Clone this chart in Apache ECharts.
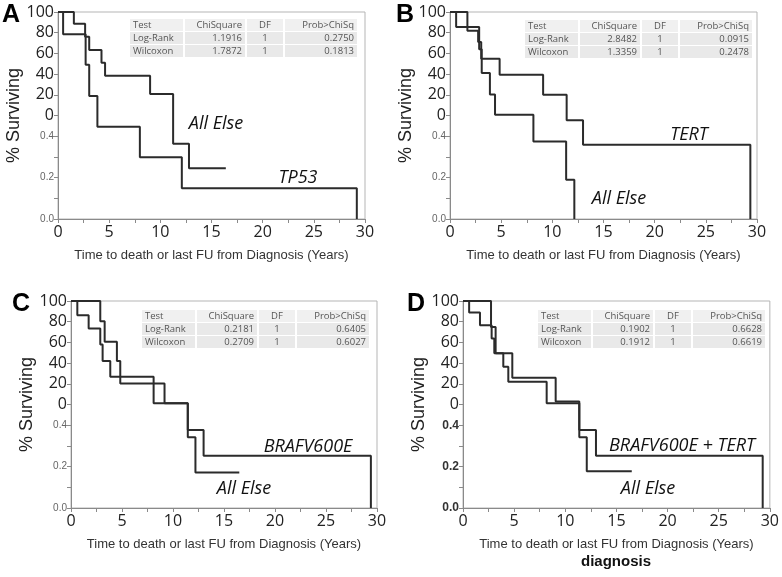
<!DOCTYPE html>
<html>
<head>
<meta charset="utf-8">
<script src="https://cdn.jsdelivr.net/npm/echarts@6/dist/echarts.min.js"></script>
<style>
html,body{margin:0;padding:0;background:#ffffff;}
#chart{width:782px;height:577px;}
</style>
</head>
<body>
<div id="chart"></div>
<script>
// ---------------- DATA ----------------
const xTickValues = [0, 5, 10, 15, 20, 25, 30];
const yTickText = ['0.0', '', '0.2', '', '0.4', '0', '20', '40', '60', '80', '100'];
const panelLetters = ['A', 'B', 'C', 'D'];
const xTitle = 'Time to death or last FU from Diagnosis (Years)';
const yTitle = '% Surviving';
const statsHeader = ['Test', 'ChiSquare', 'DF', 'Prob>ChiSq'];

// Panel A
const aTP53Time = [0, 0.5, 2.7, 3.05, 3.85, 8.0, 12.1, 29.2];
const aTP53Surv = [1, 0.893, 0.745, 0.594, 0.446, 0.298, 0.149, 0];
const aElseTime = [0, 1.55, 2.65, 3.05, 4.25, 4.6, 9.0, 11.25, 12.8, 16.4];
const aElseSurv = [1, 0.943, 0.88, 0.817, 0.755, 0.692, 0.604, 0.363, 0.245, 0.245];
const aStats = [['Log-Rank', '1.1916', '1', '0.2750'], ['Wilcoxon', '1.7872', '1', '0.1813']];

// Panel B
const bTERTTime = [0, 1.7, 2.75, 3.05, 4.85, 9.1, 11.4, 13.0, 29.35];
const bTERTSurv = [1, 0.91, 0.855, 0.774, 0.697, 0.6, 0.477, 0.359, 0];
const bElseTime = [0, 0.6, 2.85, 3.1, 3.9, 4.4, 8.15, 11.35, 12.15];
const bElseSurv = [1, 0.927, 0.82, 0.705, 0.602, 0.504, 0.375, 0.19, 0];
const bStats = [['Log-Rank', '2.8482', '1', '0.0915'], ['Wilcoxon', '1.3359', '1', '0.2478']];

// Panel C
const cBRAFTime = [0, 2.87, 3.3, 4.5, 4.83, 9.17, 11.45, 13.0, 29.4];
const cBRAFSurv = [1, 0.902, 0.803, 0.71, 0.602, 0.506, 0.377, 0.252, 0];
const cElseTime = [0, 0.62, 1.73, 2.87, 3.1, 3.85, 8.1, 11.45, 12.2, 16.5];
const cElseSurv = [1, 0.931, 0.867, 0.79, 0.71, 0.634, 0.506, 0.342, 0.171, 0.171];
const cStats = [['Log-Rank', '0.2181', '1', '0.6405'], ['Wilcoxon', '0.2709', '1', '0.6027']];

// Panel D
const dBTTime = [0, 2.74, 3.19, 4.82, 9.06, 11.37, 13.0, 29.3];
const dBTSurv = [1, 0.875, 0.747, 0.629, 0.514, 0.377, 0.252, 0];
const dElseTime = [0, 0.6, 1.66, 2.8, 3.06, 3.94, 4.43, 8.18, 11.37, 12.1, 16.5];
const dElseSurv = [1, 0.944, 0.883, 0.819, 0.747, 0.682, 0.61, 0.506, 0.342, 0.177, 0.177];
const dStats = [['Log-Rank', '0.1902', '1', '0.6628'], ['Wilcoxon', '0.1912', '1', '0.6619']];

const curveLabels = [['All Else', 'TP53'], ['TERT', 'All Else'], ['BRAFV600E', 'All Else'], ['BRAFV600E + TERT', 'All Else']];
const footText = 'diagnosis';

// ---------------- LAYOUT ----------------
const grids = [
  {left: 58, top: 12, width: 307, height: 207},
  {left: 450, top: 12, width: 307, height: 207},
  {left: 71, top: 301, width: 306, height: 207},
  {left: 463, top: 301, width: 307, height: 207}
];
const yNameGaps = [31, 31, 33, 32];
const letterPos = [[2, 3], [396, 3], [12, 292], [407, 292]];
const curveLabelPos = [[[216, 124], [298, 178]], [[689, 135], [619, 199]], [[308, 447], [244, 489]], [[682, 446], [648, 489]]];
const tablePos = [[130, 19], [525, 20], [142, 310], [538, 310]];

const series = [
  [[aTP53Time, aTP53Surv], [aElseTime, aElseSurv]],
  [[bTERTTime, bTERTSurv], [bElseTime, bElseSurv]],
  [[cBRAFTime, cBRAFSurv], [cElseTime, cElseSurv]],
  [[dBTTime, dBTSurv], [dElseTime, dElseSurv]]
];
const stats = [aStats, bStats, cStats, dStats];

function zip(t, s) { return t.map((v, i) => [v, s[i]]); }

const option = {
  backgroundColor: '#ffffff',
  animation: false,
  grid: grids.map(g => Object.assign({show: true, borderColor: '#b5b5b5', borderWidth: 1, backgroundColor: 'transparent'}, g)),
  xAxis: grids.map((g, i) => ({
    type: 'value', gridIndex: i, min: 0, max: 30, interval: 5,
    name: xTitle, nameLocation: 'middle', nameGap: 30,
    nameTextStyle: {fontFamily: 'Liberation Sans', fontSize: 13, color: '#333'},
    axisLine: {show: true, onZero: false, lineStyle: {color: '#8a8a8a', width: 1}},
    axisTick: {show: true, inside: false, length: 4, lineStyle: {color: '#8a8a8a'}},
    minorTick: {show: true, splitNumber: 2, length: 4, lineStyle: {color: '#8a8a8a'}},
    splitLine: {show: false},
    axisLabel: {fontFamily: 'Open Sans', fontSize: 16, color: '#222', margin: 5,
      formatter: v => xTickValues.indexOf(v) >= 0 ? String(v) : ''}
  })),
  yAxis: grids.map((g, i) => ({
    type: 'value', gridIndex: i, min: 0, max: 1, interval: 0.1,
    name: yTitle, nameLocation: 'middle', nameGap: yNameGaps[i], nameRotate: 90,
    nameTextStyle: {fontFamily: 'Liberation Sans', fontSize: 18, color: '#222'},
    axisLine: {show: true, onZero: false, lineStyle: {color: '#8a8a8a', width: 1}},
    axisTick: {show: true, inside: false, length: 4, lineStyle: {color: '#8a8a8a'}},
    splitLine: {show: false},
    axisLabel: {
      margin: 4,
      formatter: (v, idx) => {
        const t = yTickText[idx] || '';
        if (!t) return '';
        if (idx >= 5) return '{b|' + t + '}';
        return (i === 3 ? '{d|' : '{s|') + t + '}';
      },
      rich: {
        b: {fontFamily: 'Open Sans', fontSize: 16, color: '#222'},
        s: {fontFamily: 'Liberation Sans', fontSize: 10, color: '#666'},
        d: {fontFamily: 'Liberation Sans', fontSize: 12, fontWeight: 'bold', color: '#333'}
      }
    }
  })),
  series: [],
  graphic: []
};

series.forEach((pair, gi) => {
  pair.forEach(([t, s]) => {
    option.series.push({
      type: 'line', xAxisIndex: gi, yAxisIndex: gi, step: 'end',
      data: zip(t, s), showSymbol: false, symbol: 'none',
      lineStyle: {color: '#2b2b2b', width: 2}
    });
  });
});

// panel letters
panelLetters.forEach((L, i) => {
  option.graphic.push({type: 'text', left: letterPos[i][0], top: letterPos[i][1],
    style: {text: L, fontFamily: 'Liberation Sans', fontWeight: 'bold', fontSize: 25, fill: '#000'}});
});

// curve labels
curveLabels.forEach((labs, i) => {
  labs.forEach((lab, j) => {
    option.graphic.push({type: 'text', x: curveLabelPos[i][j][0], y: curveLabelPos[i][j][1],
      style: {text: lab, fontFamily: 'Open Sans', fontStyle: 'italic', fontSize: 18, fill: '#111',
        align: 'center', verticalAlign: 'middle'}});
  });
});

// stats tables
const colW = [53, 60, 36, 72];
const colGap = 2;
const rowH = 12, rowGap = 1;
stats.forEach((rows, i) => {
  const [tx, ty] = tablePos[i];
  const all = [statsHeader].concat(rows);
  const children = [];
  all.forEach((r, ri) => {
    let cx = 0;
    r.forEach((cell, ci) => {
      const w = colW[ci];
      const y0 = ri * (rowH + rowGap);
      children.push({type: 'rect', shape: {x: cx, y: y0, width: w, height: rowH},
        style: {fill: ri === 0 ? '#f0f0f0' : '#e9e9e9'}});
      let tx2, align;
      if (ci === 0) { tx2 = cx + 3; align = 'left'; }
      else if (ci === 2) { tx2 = cx + w / 2; align = 'center'; }
      else { tx2 = cx + w - 3; align = 'right'; }
      children.push({type: 'text', x: tx2, y: y0 + rowH / 2 + 0.5,
        style: {text: cell, fontFamily: 'Open Sans', fontSize: 9.5, fill: '#555', align: align, verticalAlign: 'middle'}});
      cx += w + colGap;
    });
  });
  option.graphic.push({type: 'group', x: tx, y: ty, children: children});
});

option.graphic.push({type: 'text', x: 616, y: 562,
  style: {text: footText, fontFamily: 'Liberation Sans', fontWeight: 'bold', fontSize: 15, fill: '#111', align: 'center', verticalAlign: 'middle'}});

const chart = echarts.init(document.getElementById('chart'), null, {renderer: 'canvas'});
chart.setOption(option);
</script>
</body>
</html>
